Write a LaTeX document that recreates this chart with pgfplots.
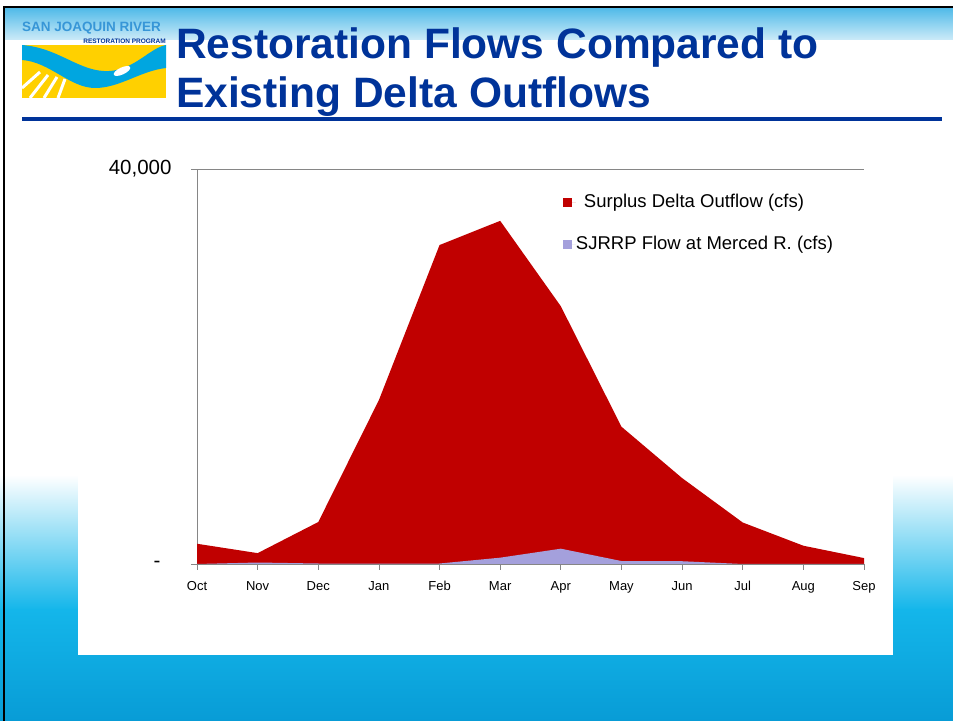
\documentclass[border=0pt]{standalone}
\usepackage{pgfplots}
\pgfplotsset{compat=1.18}
\usepackage{fontspec}
\setmainfont{Liberation Sans}
\definecolor{titleblue}{RGB}{0,51,153}
\definecolor{axisgray}{RGB}{134,134,134}
\definecolor{surplusred}{RGB}{192,0,0}
\definecolor{sjrrp}{RGB}{164,160,220}
\definecolor{bandtop}{RGB}{80,186,232}
\definecolor{bandbot}{RGB}{205,235,248}
\definecolor{seaA}{RGB}{20,182,234}
\definecolor{seaB}{RGB}{8,156,214}
\definecolor{logoyellow}{RGB}{255,208,0}
\definecolor{logoblue}{RGB}{0,166,224}
\definecolor{logotext}{RGB}{55,150,215}
\begin{document}
\begin{tikzpicture}[x=1bp,y=1bp]
\useasboundingbox (0,0) rectangle (953,721);
\fill[white] (0,0) rectangle (953,721);
% lower sea gradient
\shade[top color=white, bottom color=seaA] (0,111) rectangle (953,246);
\shade[top color=seaA, bottom color=seaB] (0,0) rectangle (953,111.5);
% header band
\shade[top color=bandtop, bottom color=bandbot] (5,681) rectangle (953,713);
% borders
\draw[black, line width=2bp] (4,0) -- (4,714) -- (953,714);
% logo
\fill[logoyellow] (22,623) rectangle (166,676);
\fill[logoblue] (22,676) .. controls (60,673) and (80,648) .. (110,650) .. controls (135,652) and (150,673) .. (166,676)
  -- (166,653) .. controls (140,650) and (120,633) .. (95,633) .. controls (70,633) and (50,659) .. (22,661) -- cycle;
\fill[white, rotate around={25:(122,650)}] (122,650) ellipse (9bp and 3.5bp);
\begin{scope}[white, line width=3bp]
\draw (22,633) -- (40,649);
\draw (30,623) -- (48,646);
\draw (44,623) -- (57,644);
\draw (58,623) -- (65,642);
\end{scope}
\node[anchor=south west, inner sep=0pt, text=logotext, font=\fontsize{13.5bp}{14bp}\selectfont\bfseries] at (22,687) {SAN JOAQUIN RIVER};
\node[anchor=south east, inner sep=0pt, text=titleblue, font=\fontsize{6.5bp}{7bp}\selectfont\bfseries] at (166,677) {RESTORATION PROGRAM};
% title
\node[anchor=base west, inner sep=0pt, text=titleblue, font=\fontsize{42.5bp}{49bp}\selectfont\bfseries] at (176,662) {Restoration Flows Compared to};
\node[anchor=base west, inner sep=0pt, text=titleblue, font=\fontsize{42.5bp}{49bp}\selectfont\bfseries] at (176,613) {Existing Delta Outflows};
\fill[titleblue] (22,600) rectangle (942,604);
% white chart area
\fill[white] (78,66) rectangle (893,581);
\begin{axis}[
  at={(197bp,157bp)}, anchor=south west,
  scale only axis, width=667bp, height=395bp,
  xmin=0, xmax=11, ymin=0, ymax=40000,
  axis lines=left, axis line style={-, draw=axisgray, line width=0.8bp},
  x axis line style={line width=1.6bp},
  xtick={0,...,11},
  xticklabels={Oct,Nov,Dec,Jan,Feb,Mar,Apr,May,Jun,Jul,Aug,Sep},
  ytick={0,40000},
  yticklabels={{\raisebox{-2bp}{-}\hspace*{11bp}},{40,000}},
  tick align=outside, major tick length=6bp,
  tick style={draw=axisgray, line width=0.8bp},
  ymajorgrids, grid style={draw=axisgray, line width=0.8bp},
  xticklabel style={font=\fontsize{13bp}{15bp}\selectfont, yshift=-8bp},
  yticklabel style={font=\fontsize{20.5bp}{22bp}\selectfont, xshift=-16bp},
  scaled y ticks=false,
  legend style={at={(0.5487,0.939)}, anchor=north west, draw=none, fill=none,
    inner sep=0pt, outer sep=0pt, font=\fontsize{18.5bp}{22bp}\selectfont, row sep=24bp,
    nodes={inner sep=0pt, text height=14bp, text depth=4bp}},
  legend cell align=left,
  legend image code/.code={\fill[#1] (0bp,-4.5bp) rectangle (9bp,4.5bp); \path (0bp,0bp) -- (13bp,0bp);},
]
\addplot[fill=surplusred, draw=none] table {
x y
0 2050
1 1100
2 4250
3 16600
4 32300
5 34750
6 26100
7 13900
8 8700
9 4200
10 1850
11 600
} \closedcycle;
\addlegendentry{\hspace*{8bp}Surplus Delta Outflow (cfs)}
\addplot[fill=sjrrp, draw=none] table {
x y
0 0
1 150
2 50
3 50
4 50
5 640
6 1550
7 300
8 280
9 0
10 0
11 0
} \closedcycle;
\addlegendentry{SJRRP Flow at Merced R. (cfs)}
\end{axis}
\end{tikzpicture}
\end{document}
